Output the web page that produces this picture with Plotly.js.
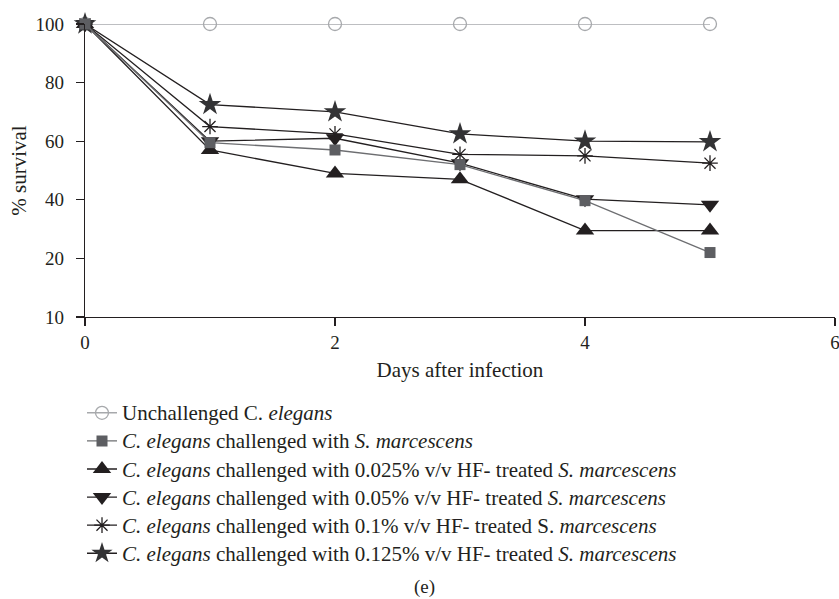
<!DOCTYPE html>
<html>
<head>
<meta charset="utf-8">
<script src="https://cdn.plot.ly/plotly-3.0.1.min.js"></script>
<style>html,body{margin:0;padding:0;background:#fff;}#chart{width:839px;height:599px;}</style>
</head>
<body>
<div id="chart"></div>
<script>
// Data
var days = [0, 1, 2, 3, 4, 5];
var unchallenged = [100, 100, 100, 100, 100, 100];
var challenged = [100, 59.5, 57, 52, 39.7, 22];
var hf0025 = [100, 57, 49, 47, 29.5, 29.5];
var hf005 = [100, 60, 61, 52.5, 40.2, 38.3];
var hf01 = [100, 65, 62.5, 55.5, 55, 52.5];
var hf0125 = [100, 72.5, 70, 62.5, 60, 59.8];

var names = [
  'Unchallenged C. <i>elegans</i>',
  '<i>C. elegans</i> challenged with <i>S. marcescens</i>',
  '<i>C. elegans</i> challenged with 0.025% v/v HF- treated <i>S. marcescens</i>',
  '<i>C. elegans</i> challenged with 0.05% v/v HF- treated <i>S. marcescens</i>',
  '<i>C. elegans</i> challenged with 0.1% v/v HF- treated S. <i>marcescens</i>',
  '<i>C. elegans</i> challenged with 0.125% v/v HF- treated <i>S. marcescens</i>'
];
var yTickVals = [0, 20, 40, 60, 80, 100];
var yTickText = ['10', '20', '40', '60', '80', '100'];
var xTickVals = [0, 2, 4, 6];

function big(s) { return '<span style="font-size:21px">' + s + '</span>'; }

var dark = '#231f20';
var traces = [
  {x: days, y: unchallenged, name: big(names[0]), legendrank: 1, mode: 'lines+markers',
   line: {color: '#a7a9ac', width: 1.5},
   marker: {symbol: 'circle-open', size: 13, color: '#a7a9ac', line: {width: 1.3, color: '#a7a9ac'}}},
  {x: days, y: hf0025, name: big(names[2]), legendrank: 3, mode: 'lines+markers',
   line: {color: dark, width: 1.3},
   marker: {symbol: 'triangle-up', size: 16, color: dark}},
  {x: days, y: hf005, name: big(names[3]), legendrank: 4, mode: 'lines+markers',
   line: {color: dark, width: 1.3},
   marker: {symbol: 'triangle-down', size: 16, color: dark}},
  {x: days, y: hf01, name: big(names[4]), legendrank: 5, mode: 'lines+markers',
   line: {color: dark, width: 1.3},
   marker: {symbol: 'asterisk-open', size: 13, color: dark, line: {width: 1.3, color: dark}}},
  {x: days, y: hf0125, name: big(names[5]), legendrank: 6, mode: 'lines+markers',
   line: {color: dark, width: 1.3},
   marker: {symbol: 'star', size: 17, color: '#333335'}},
  {x: days, y: challenged, name: big(names[1]), legendrank: 2, mode: 'lines+markers',
   line: {color: '#6d6e71', width: 1.3},
   marker: {symbol: 'square', size: 11, color: '#5d5e62'}}
];
traces.forEach(function(t){ t.cliponaxis = false; });

var fam = '"Liberation Serif", "DejaVu Serif", serif';
var font = {family: fam, size: 19, color: dark};
var font21 = {family: fam, size: 21, color: dark};
var layout = {
  width: 839, height: 599,
  margin: {l: 85, r: 4, t: 24, b: 282},
  paper_bgcolor: '#fff', plot_bgcolor: '#fff',
  font: font,
  showlegend: true,
  legend: {x: -0.004, xanchor: 'left', y: -0.262, yanchor: 'top', bgcolor: 'rgba(0,0,0,0)',
           font: {family: fam, size: 19.3, color: dark}, tracegroupgap: 0},
  xaxis: {range: [0, 6], tickvals: xTickVals, showgrid: false, zeroline: false,
          showline: true, linecolor: dark, linewidth: 1.3, ticks: 'outside', ticklen: 8,
          tickcolor: dark, tickwidth: 1.3, tickfont: font, ticklabeloverflow: 'allow',
          title: {text: 'Days after infection', font: font21, standoff: 10}},
  yaxis: {range: [0, 100], tickvals: yTickVals, ticktext: yTickText, showgrid: false, zeroline: false,
          showline: true, linecolor: dark, linewidth: 1.3, ticks: 'outside', ticklen: 8,
          tickcolor: dark, tickwidth: 1.3, tickfont: font, ticklabelstandoff: 8,
          title: {text: '% survival', font: font21, standoff: 3}},
  annotations: [{text: '(e)', xref: 'paper', yref: 'paper', x: 0.452, y: -0.922,
                 xanchor: 'center', yanchor: 'middle', showarrow: false, font: font}]
};
Plotly.newPlot('chart', traces, layout, {displayModeBar: false, staticPlot: true});
</script>
</body>
</html>
